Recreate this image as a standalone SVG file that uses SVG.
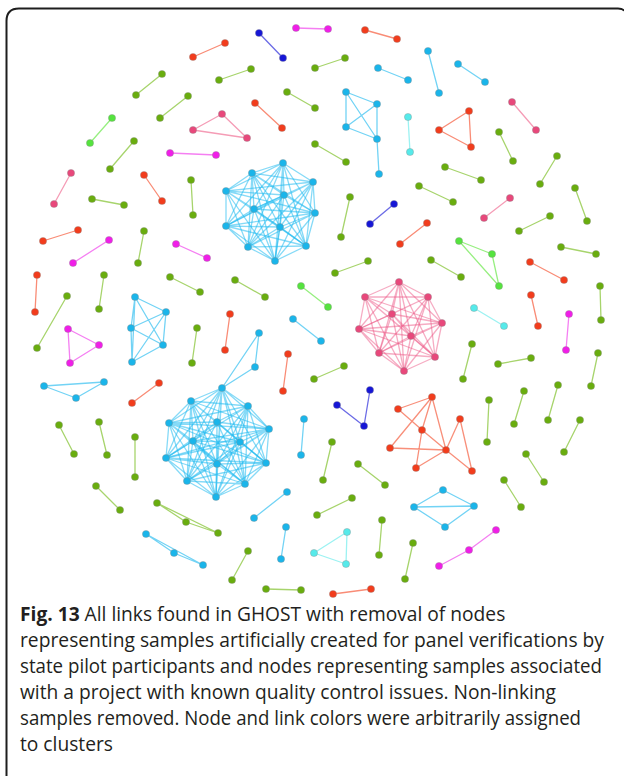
<svg xmlns="http://www.w3.org/2000/svg" width="624" height="776" viewBox="0 0 624 776">
<style>
  .frame { fill: none; stroke: #1e1e1e; stroke-width: 2; }
  #links path, #links line, #links polyline, #links polygon { fill: none; stroke-width: 1.3; stroke-linejoin: round; stroke-linecap: round; }
  .lg { stroke: #a7d46c; }
  .llg { stroke: #97ef80; }
  .lr { stroke: #f98c76; }
  .lp { stroke: #f59cb6; }
  .lm { stroke: #f57ff2; }
  .lb { stroke: #6c6ce6; }
  .ls { stroke: #72d3f5; }
  .lc { stroke: #9cf2f2; }
  .ks { stroke: #22bbf0; stroke-opacity: 0.55; }
  .kp { stroke: #ee5a88; stroke-opacity: 0.5; }
  .kr { stroke: #f5694d; stroke-opacity: 0.75; }
  circle { stroke: #8a8a8a; stroke-opacity: 0.45; stroke-width: 0.8; }
  .g circle { fill: #69ad0e; }
  .G circle { fill: #55e33e; }
  .r circle { fill: #f23c1c; }
  .p circle { fill: #e8487b; }
  .m circle { fill: #f01ee8; }
  .b circle { fill: #1616d6; }
  .s circle { fill: #1ab5ea; }
  .c circle { fill: #56eaea; }
  .cap { font-family: "Open Sans", "Liberation Sans", sans-serif; font-size: 19.2px; fill: #231f20; }
  .cap .fig { font-weight: bold; }
</style>

<path class="frame" d="M6.5 776V21Q6.5 8.5 19 8.5H618Q623 8.5 624 11"/>

<g id="links">
  <!-- green pairs -->
  <path class="lg" d="M136 95L162 74M160 118L188 96M110 169L134 141M219 80L251 69M315 68L345 58M287 92L315 108M315 144L346 162M499 132L513 161M92 199L124 205M191 180L193 215M144 231L138 263M104 275L99 309M170 277L200 292M67 296L37 348M350 197L341 237M335 273L368 261M235 280L265 297M445 167L481 180M557 156L540 184M419 186L453 202M575 188L587 221M550 216L519 231M431 260L461 277M561 247L596 254M600 286L601 320M197 328L192 363M59 425L74 454M99 422L107 455M135 437L135 477M314 379L344 366M472 344L463 379M498 364L531 358M598 353L591 386M489 400L487 442M524 391L514 424M558 385L548 420M580 420L564 452M96 486L120 510M332 442L323 480M358 464L385 485M317 515L352 498M382 520L379 555M248 551L232 580M266 589L301 590M413 543L405 579M526 454L544 482M504 480L521 507"/>
  <polygon class="lg" points="157,503 186,522 218,533"/>
  <!-- light green -->
  <path class="llg" d="M90 143L112 118M301 286L328 307"/>
  <polygon class="llg" points="459,241 492,254 499,286"/>
  <!-- red -->
  <path class="lr" d="M193 57L225 43M365 30L397 39M255 103L282 128M144 175L162 201M43 241L78 230M37 275L35 312M400 244L427 223M530 262L564 280M531 295L538 326M230 314L225 350M288 354L283 391M132 403L159 383M333 594L371 589"/>
  <polygon class="lr" points="469,111 439,130 471,147"/>
  <path class="kr" d="M398 409L432 397M398 409L422 430M422 430L446 450M432 397L422 430M432 397L390 448M432 397L446 450M460 419L446 450M460 419L472 471M446 450L472 471M446 450L416 468M422 430L416 468M390 448L446 450"/>
  <!-- pink -->
  <path class="lp" d="M512 102L536 130M71 173L54 204M510 198L484 218"/>
  <polygon class="lp" points="193,130 222,114 247,138"/>
  <!-- magenta -->
  <path class="lm" d="M296 28L328 29M170 153L216 155M73 263L109 240M176 244L207 258M569 314L566 350M496 530L469 550L439 566"/>
  <polygon class="lm" points="68,329 99,345 70,363"/>
  <!-- blue -->
  <path class="lb" d="M259 33L283 58M394 204L370 224M337 405L364 426L370 390"/>
  <!-- sky blue -->
  <path class="ls" d="M378 68L408 80M428 51L439 93M458 64L485 82M346 92L377 104M346 92L346 127M346 92L377 139M377 104L346 127M377 104L377 139M346 127L377 139M377 139L379 174M135 297L166 312M135 297L131 328M135 297L163 345M135 297L132 362M166 312L131 328M166 312L163 345M166 312L132 362M131 328L163 345M131 328L132 362M163 345L132 362M293 319L321 341M304 419L301 455M254 518L287 492M286 527L281 559M443 490L414 507M414 507L474 506M414 507L445 527M443 490L474 506M445 527L474 506"/>
  <polygon class="ls" points="44,386 104,382 76,398"/>
  <polygon class="ls" points="259,333 255,367 222,388"/>
  <polygon class="ls" points="146,534 174,553 203,565"/>
  <!-- cyan -->
  <path class="lc" d="M408 117L410 152M474 308L504 326"/>
  <polygon class="lc" points="347,532 314,553 346,564"/>

  <!-- upper sky-blue clique -->
  <path class="ks" d="M283 163 252 173 283 163 313 182 283 163 226 191 283 163 284 195 283 163 254 209 283 163 315 213 283 163 226 226 283 163 280 227 283 163 248 247 283 163 306 246 283 163 275 261"/>
  <path class="ks" d="M252 173 313 182 252 173 226 191 252 173 284 195 252 173 254 209 252 173 315 213 252 173 226 226 252 173 280 227 252 173 248 247 252 173 306 246 252 173 275 261"/>
  <path class="ks" d="M313 182 226 191 313 182 284 195 313 182 254 209 313 182 315 213 313 182 226 226 313 182 280 227 313 182 248 247 313 182 306 246 313 182 275 261"/>
  <path class="ks" d="M226 191 284 195 226 191 254 209 226 191 315 213 226 191 226 226 226 191 280 227 226 191 248 247 226 191 306 246 226 191 275 261"/>
  <path class="ks" d="M284 195 254 209 284 195 315 213 284 195 226 226 284 195 280 227 284 195 248 247 284 195 306 246 284 195 275 261"/>
  <path class="ks" d="M254 209 315 213 254 209 226 226 254 209 280 227 254 209 248 247 254 209 306 246 254 209 275 261"/>
  <path class="ks" d="M315 213 226 226 315 213 280 227 315 213 248 247 315 213 306 246 315 213 275 261"/>
  <path class="ks" d="M226 226 280 227 226 226 248 247 226 226 306 246 226 226 275 261"/>
  <path class="ks" d="M280 227 248 247 280 227 306 246 280 227 275 261"/>
  <path class="ks" d="M248 247 306 246 248 247 275 261M306 246 275 261"/>

  <!-- pink clique -->
  <path class="kp" d="M399 282 365 297 399 282 428 297 399 282 392 314 399 282 442 323 399 282 359 329 399 282 411 336 399 282 379 353 399 282 435 357 399 282 404 371"/>
  <path class="kp" d="M365 297 428 297 365 297 392 314 365 297 442 323 365 297 359 329 365 297 411 336 365 297 379 353 365 297 435 357 365 297 404 371"/>
  <path class="kp" d="M428 297 392 314 428 297 442 323 428 297 359 329 428 297 411 336 428 297 379 353 428 297 435 357 428 297 404 371"/>
  <path class="kp" d="M392 314 442 323 392 314 359 329 392 314 411 336 392 314 379 353 392 314 435 357 392 314 404 371"/>
  <path class="kp" d="M442 323 359 329 442 323 411 336 442 323 379 353 442 323 435 357 442 323 404 371"/>
  <path class="kp" d="M359 329 411 336 359 329 379 353 359 329 435 357 359 329 404 371"/>
  <path class="kp" d="M411 336 379 353 411 336 435 357 411 336 404 371M379 353 435 357 379 353 404 371M435 357 404 371"/>

  <!-- lower sky-blue clique -->
  <path class="ks" d="M222 388 191 401 222 388 248 406 222 388 169 423 222 388 217 422 222 388 269 429 222 388 193 441 222 388 240 442 222 388 166 458 222 388 217 464 222 388 266 463 222 388 187 481 222 388 245 484 222 388 216 497"/>
  <path class="ks" d="M191 401 248 406 191 401 169 423 191 401 217 422 191 401 269 429 191 401 193 441 191 401 240 442 191 401 166 458 191 401 217 464 191 401 266 463 191 401 187 481 191 401 245 484 191 401 216 497"/>
  <path class="ks" d="M248 406 169 423 248 406 217 422 248 406 269 429 248 406 193 441 248 406 240 442 248 406 166 458 248 406 217 464 248 406 266 463 248 406 187 481 248 406 245 484 248 406 216 497"/>
  <path class="ks" d="M169 423 217 422 169 423 269 429 169 423 193 441 169 423 240 442 169 423 166 458 169 423 217 464 169 423 266 463 169 423 187 481 169 423 245 484 169 423 216 497"/>
  <path class="ks" d="M217 422 269 429 217 422 193 441 217 422 240 442 217 422 166 458 217 422 217 464 217 422 266 463 217 422 187 481 217 422 245 484 217 422 216 497"/>
  <path class="ks" d="M269 429 193 441 269 429 240 442 269 429 166 458 269 429 217 464 269 429 266 463 269 429 187 481 269 429 245 484 269 429 216 497"/>
  <path class="ks" d="M193 441 240 442 193 441 166 458 193 441 217 464 193 441 266 463 193 441 187 481 193 441 245 484 193 441 216 497"/>
  <path class="ks" d="M240 442 166 458 240 442 217 464 240 442 266 463 240 442 187 481 240 442 245 484 240 442 216 497"/>
  <path class="ks" d="M166 458 217 464 166 458 266 463 166 458 187 481 166 458 245 484 166 458 216 497"/>
  <path class="ks" d="M217 464 266 463 217 464 187 481 217 464 245 484 217 464 216 497M266 463 187 481 266 463 245 484 266 463 216 497M187 481 245 484 187 481 216 497M245 484 216 497"/>
</g>

<g id="nodes">
  <g id="green" class="g">
    <circle r="3.6" cx="136" cy="95"/><circle r="3.6" cx="162" cy="74"/>
    <circle r="3.6" cx="160" cy="118"/><circle r="3.6" cx="188" cy="96"/>
    <circle r="3.6" cx="110" cy="169"/><circle r="3.6" cx="134" cy="141"/>
    <circle r="3.6" cx="219" cy="80"/><circle r="3.6" cx="251" cy="69"/>
    <circle r="3.6" cx="315" cy="68"/><circle r="3.6" cx="345" cy="58"/>
    <circle r="3.6" cx="287" cy="92"/><circle r="3.6" cx="315" cy="108"/>
    <circle r="3.6" cx="315" cy="144"/><circle r="3.6" cx="346" cy="162"/>
    <circle r="3.6" cx="499" cy="132"/><circle r="3.6" cx="513" cy="161"/>
    <circle r="3.6" cx="92" cy="199"/><circle r="3.6" cx="124" cy="205"/>
    <circle r="3.6" cx="191" cy="180"/><circle r="3.6" cx="193" cy="215"/>
    <circle r="3.6" cx="144" cy="231"/><circle r="3.6" cx="138" cy="263"/>
    <circle r="3.6" cx="104" cy="275"/><circle r="3.6" cx="99" cy="309"/>
    <circle r="3.6" cx="170" cy="277"/><circle r="3.6" cx="200" cy="292"/>
    <circle r="3.6" cx="67" cy="296"/><circle r="3.6" cx="37" cy="348"/>
    <circle r="3.6" cx="350" cy="197"/><circle r="3.6" cx="341" cy="237"/>
    <circle r="3.6" cx="335" cy="273"/><circle r="3.6" cx="368" cy="261"/>
    <circle r="3.6" cx="235" cy="280"/><circle r="3.6" cx="265" cy="297"/>
    <circle r="3.6" cx="445" cy="167"/><circle r="3.6" cx="481" cy="180"/>
    <circle r="3.6" cx="557" cy="156"/><circle r="3.6" cx="540" cy="184"/>
    <circle r="3.6" cx="419" cy="186"/><circle r="3.6" cx="453" cy="202"/>
    <circle r="3.6" cx="575" cy="188"/><circle r="3.6" cx="587" cy="221"/>
    <circle r="3.6" cx="550" cy="216"/><circle r="3.6" cx="519" cy="231"/>
    <circle r="3.6" cx="431" cy="260"/><circle r="3.6" cx="461" cy="277"/>
    <circle r="3.6" cx="561" cy="247"/><circle r="3.6" cx="596" cy="254"/>
    <circle r="3.6" cx="600" cy="286"/><circle r="3.6" cx="601" cy="320"/>
    <circle r="3.6" cx="197" cy="328"/><circle r="3.6" cx="192" cy="363"/>
    <circle r="3.6" cx="59" cy="425"/><circle r="3.6" cx="74" cy="454"/>
    <circle r="3.6" cx="99" cy="422"/><circle r="3.6" cx="107" cy="455"/>
    <circle r="3.6" cx="135" cy="437"/><circle r="3.6" cx="135" cy="477"/>
    <circle r="3.6" cx="314" cy="379"/><circle r="3.6" cx="344" cy="366"/>
    <circle r="3.6" cx="472" cy="344"/><circle r="3.6" cx="463" cy="379"/>
    <circle r="3.6" cx="498" cy="364"/><circle r="3.6" cx="531" cy="358"/>
    <circle r="3.6" cx="598" cy="353"/><circle r="3.6" cx="591" cy="386"/>
    <circle r="3.6" cx="489" cy="400"/><circle r="3.6" cx="487" cy="442"/>
    <circle r="3.6" cx="524" cy="391"/><circle r="3.6" cx="514" cy="424"/>
    <circle r="3.6" cx="558" cy="385"/><circle r="3.6" cx="548" cy="420"/>
    <circle r="3.6" cx="580" cy="420"/><circle r="3.6" cx="564" cy="452"/>
    <circle r="3.6" cx="96" cy="486"/><circle r="3.6" cx="120" cy="510"/>
    <circle r="3.6" cx="157" cy="503"/><circle r="3.6" cx="186" cy="522"/><circle r="3.6" cx="218" cy="533"/>
    <circle r="3.6" cx="332" cy="442"/><circle r="3.6" cx="323" cy="480"/>
    <circle r="3.6" cx="358" cy="464"/><circle r="3.6" cx="385" cy="485"/>
    <circle r="3.6" cx="317" cy="515"/><circle r="3.6" cx="352" cy="498"/>
    <circle r="3.6" cx="382" cy="520"/><circle r="3.6" cx="379" cy="555"/>
    <circle r="3.6" cx="248" cy="551"/><circle r="3.6" cx="232" cy="580"/>
    <circle r="3.6" cx="266" cy="589"/><circle r="3.6" cx="301" cy="590"/>
    <circle r="3.6" cx="413" cy="543"/><circle r="3.6" cx="405" cy="579"/>
    <circle r="3.6" cx="526" cy="454"/><circle r="3.6" cx="544" cy="482"/>
    <circle r="3.6" cx="504" cy="480"/><circle r="3.6" cx="521" cy="507"/>
  </g>
  <g id="light-green" class="G">
    <circle r="3.6" cx="90" cy="143"/><circle r="3.6" cx="112" cy="118"/>
    <circle r="3.6" cx="301" cy="286"/><circle r="3.6" cx="328" cy="307"/>
    <circle r="3.6" cx="459" cy="241"/><circle r="3.6" cx="492" cy="254"/><circle r="3.6" cx="499" cy="286"/>
  </g>
  <g id="red" class="r">
    <circle r="3.6" cx="193" cy="57"/><circle r="3.6" cx="225" cy="43"/>
    <circle r="3.6" cx="365" cy="30"/><circle r="3.6" cx="397" cy="39"/>
    <circle r="3.6" cx="255" cy="103"/><circle r="3.6" cx="282" cy="128"/>
    <circle r="3.6" cx="469" cy="111"/><circle r="3.6" cx="439" cy="130"/><circle r="3.6" cx="471" cy="147"/>
    <circle r="3.6" cx="144" cy="175"/><circle r="3.6" cx="162" cy="201"/>
    <circle r="3.6" cx="43" cy="241"/><circle r="3.6" cx="78" cy="230"/>
    <circle r="3.6" cx="37" cy="275"/><circle r="3.6" cx="35" cy="312"/>
    <circle r="3.6" cx="400" cy="244"/><circle r="3.6" cx="427" cy="223"/>
    <circle r="3.6" cx="530" cy="262"/><circle r="3.6" cx="564" cy="280"/>
    <circle r="3.6" cx="531" cy="295"/><circle r="3.6" cx="538" cy="326"/>
    <circle r="3.6" cx="230" cy="314"/><circle r="3.6" cx="225" cy="350"/>
    <circle r="3.6" cx="288" cy="354"/><circle r="3.6" cx="283" cy="391"/>
    <circle r="3.6" cx="132" cy="403"/><circle r="3.6" cx="159" cy="383"/>
    <circle r="3.6" cx="333" cy="594"/><circle r="3.6" cx="371" cy="589"/>
    <circle r="3.6" cx="398" cy="409"/><circle r="3.6" cx="432" cy="397"/><circle r="3.6" cx="460" cy="419"/>
    <circle r="3.6" cx="422" cy="430"/><circle r="3.6" cx="390" cy="448"/><circle r="3.6" cx="446" cy="450"/>
    <circle r="3.6" cx="416" cy="468"/><circle r="3.6" cx="472" cy="471"/>
  </g>
  <g id="pink" class="p">
    <circle r="3.6" cx="193" cy="130"/><circle r="3.6" cx="222" cy="114"/><circle r="3.6" cx="247" cy="138"/>
    <circle r="3.6" cx="512" cy="102"/><circle r="3.6" cx="536" cy="130"/>
    <circle r="3.6" cx="71" cy="173"/><circle r="3.6" cx="54" cy="204"/>
    <circle r="3.6" cx="510" cy="198"/><circle r="3.6" cx="484" cy="218"/>
    <circle r="3.6" cx="399" cy="282"/><circle r="3.6" cx="365" cy="297"/><circle r="3.6" cx="428" cy="297"/>
    <circle r="3.6" cx="392" cy="314"/><circle r="3.6" cx="442" cy="323"/><circle r="3.6" cx="359" cy="329"/>
    <circle r="3.6" cx="411" cy="336"/><circle r="3.6" cx="379" cy="353"/><circle r="3.6" cx="435" cy="357"/>
    <circle r="3.6" cx="404" cy="371"/>
  </g>
  <g id="magenta" class="m">
    <circle r="3.6" cx="296" cy="28"/><circle r="3.6" cx="328" cy="29"/>
    <circle r="3.6" cx="170" cy="153"/><circle r="3.6" cx="216" cy="155"/>
    <circle r="3.6" cx="73" cy="263"/><circle r="3.6" cx="109" cy="240"/>
    <circle r="3.6" cx="176" cy="244"/><circle r="3.6" cx="207" cy="258"/>
    <circle r="3.6" cx="68" cy="329"/><circle r="3.6" cx="99" cy="345"/><circle r="3.6" cx="70" cy="363"/>
    <circle r="3.6" cx="569" cy="314"/><circle r="3.6" cx="566" cy="350"/>
    <circle r="3.6" cx="496" cy="530"/><circle r="3.6" cx="469" cy="550"/><circle r="3.6" cx="439" cy="566"/>
  </g>
  <g id="blue" class="b">
    <circle r="3.6" cx="259" cy="33"/><circle r="3.6" cx="283" cy="58"/>
    <circle r="3.6" cx="394" cy="204"/><circle r="3.6" cx="370" cy="224"/>
    <circle r="3.6" cx="337" cy="405"/><circle r="3.6" cx="364" cy="426"/><circle r="3.6" cx="370" cy="390"/>
  </g>
  <g id="sky-blue" class="s">
    <circle r="3.6" cx="378" cy="68"/><circle r="3.6" cx="408" cy="80"/>
    <circle r="3.6" cx="428" cy="51"/><circle r="3.6" cx="439" cy="93"/>
    <circle r="3.6" cx="458" cy="64"/><circle r="3.6" cx="485" cy="82"/>
    <circle r="3.6" cx="346" cy="92"/><circle r="3.6" cx="377" cy="104"/><circle r="3.6" cx="346" cy="127"/>
    <circle r="3.6" cx="377" cy="139"/><circle r="3.6" cx="379" cy="174"/>
    <circle r="3.6" cx="135" cy="297"/><circle r="3.6" cx="166" cy="312"/><circle r="3.6" cx="131" cy="328"/>
    <circle r="3.6" cx="163" cy="345"/><circle r="3.6" cx="132" cy="362"/>
    <circle r="3.6" cx="44" cy="386"/><circle r="3.6" cx="104" cy="382"/><circle r="3.6" cx="76" cy="398"/>
    <circle r="3.6" cx="293" cy="319"/><circle r="3.6" cx="321" cy="341"/>
    <circle r="3.6" cx="259" cy="333"/><circle r="3.6" cx="255" cy="367"/>
    <circle r="3.6" cx="304" cy="419"/><circle r="3.6" cx="301" cy="455"/>
    <circle r="3.6" cx="254" cy="518"/><circle r="3.6" cx="287" cy="492"/>
    <circle r="3.6" cx="286" cy="527"/><circle r="3.6" cx="281" cy="559"/>
    <circle r="3.6" cx="146" cy="534"/><circle r="3.6" cx="174" cy="553"/><circle r="3.6" cx="203" cy="565"/>
    <circle r="3.6" cx="443" cy="490"/><circle r="3.6" cx="414" cy="507"/><circle r="3.6" cx="474" cy="506"/><circle r="3.6" cx="445" cy="527"/>
    <circle r="3.6" cx="283" cy="163"/><circle r="3.6" cx="252" cy="173"/><circle r="3.6" cx="313" cy="182"/>
    <circle r="3.6" cx="226" cy="191"/><circle r="3.6" cx="284" cy="195"/><circle r="3.6" cx="254" cy="209"/>
    <circle r="3.6" cx="315" cy="213"/><circle r="3.6" cx="226" cy="226"/><circle r="3.6" cx="280" cy="227"/>
    <circle r="3.6" cx="248" cy="247"/><circle r="3.6" cx="306" cy="246"/><circle r="3.6" cx="275" cy="261"/>
    <circle r="3.6" cx="222" cy="388"/><circle r="3.6" cx="191" cy="401"/><circle r="3.6" cx="248" cy="406"/>
    <circle r="3.6" cx="169" cy="423"/><circle r="3.6" cx="217" cy="422"/><circle r="3.6" cx="269" cy="429"/>
    <circle r="3.6" cx="193" cy="441"/><circle r="3.6" cx="240" cy="442"/><circle r="3.6" cx="166" cy="458"/>
    <circle r="3.6" cx="217" cy="464"/><circle r="3.6" cx="266" cy="463"/><circle r="3.6" cx="187" cy="481"/>
    <circle r="3.6" cx="245" cy="484"/><circle r="3.6" cx="216" cy="497"/>
  </g>
  <g id="cyan" class="c">
    <circle r="3.6" cx="408" cy="117"/><circle r="3.6" cx="410" cy="152"/>
    <circle r="3.6" cx="474" cy="308"/><circle r="3.6" cx="504" cy="326"/>
    <circle r="3.6" cx="347" cy="532"/><circle r="3.6" cx="314" cy="553"/><circle r="3.6" cx="346" cy="564"/>
  </g>
</g>

<g id="caption" class="cap">
  <text x="20" y="621"><tspan class="fig">Fig. 13</tspan> All links found in GHOST with removal of nodes</text>
  <text x="20" y="647" textLength="584" lengthAdjust="spacingAndGlyphs">representing samples artificially created for panel verifications by</text>
  <text x="20" y="673" textLength="582" lengthAdjust="spacingAndGlyphs">state pilot participants and nodes representing samples associated</text>
  <text x="20" y="699" textLength="536" lengthAdjust="spacingAndGlyphs">with a project with known quality control issues. Non-linking</text>
  <text x="20" y="725" textLength="561" lengthAdjust="spacingAndGlyphs">samples removed. Node and link colors were arbitrarily assigned</text>
  <text x="20" y="751">to clusters</text>
</g>
</svg>
